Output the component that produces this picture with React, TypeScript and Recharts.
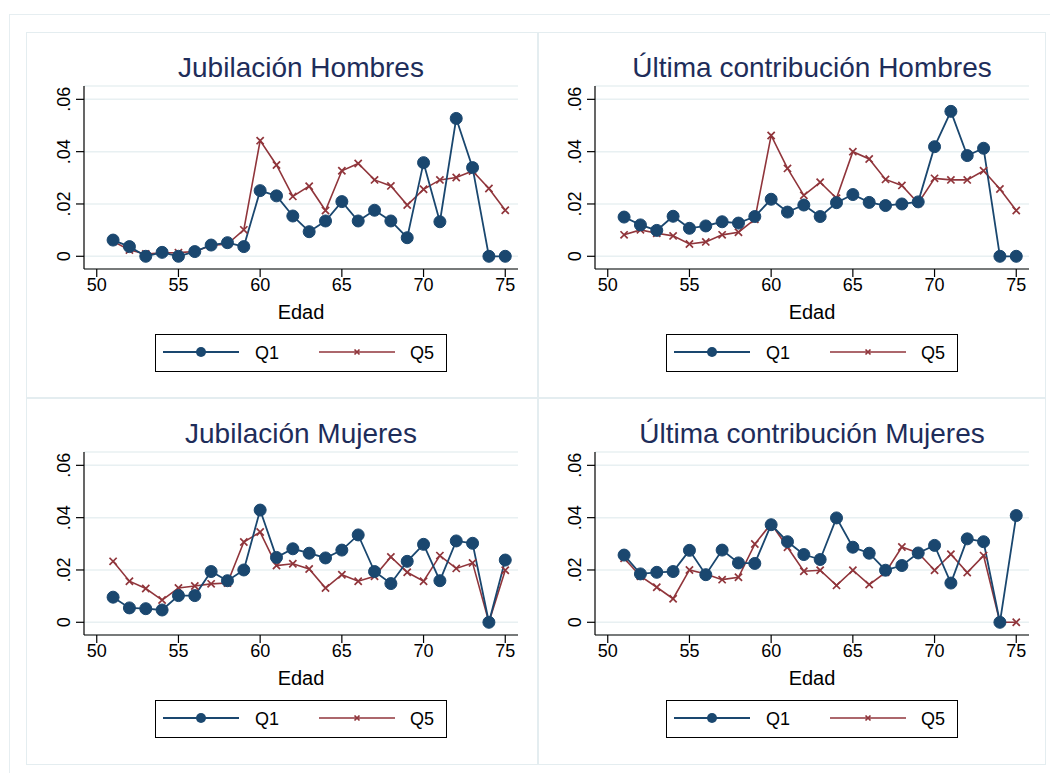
import React from 'react';
import { LineChart, Line, XAxis, YAxis, CartesianGrid } from 'recharts';

const ages = [51, 52, 53, 54, 55, 56, 57, 58, 59, 60, 61, 62, 63, 64, 65, 66, 67, 68, 69, 70, 71, 72, 73, 74, 75];
const xTicks = [50, 55, 60, 65, 70, 75];
const yTicks = [0, 0.02, 0.04, 0.06];
const seriesNames = ['Q1', 'Q5'];

const jubHombresQ1 = [0.0062, 0.0037, 0, 0.0015, 0, 0.0018, 0.0043, 0.0052, 0.0037, 0.0251, 0.0231, 0.0154, 0.0094, 0.0135, 0.0209, 0.0135, 0.0176, 0.0135, 0.0071, 0.0358, 0.0132, 0.0527, 0.0339, 0, 0];
const jubHombresQ5 = [0.0057, 0.0024, 0.0009, 0.0013, 0.0014, 0.0018, 0.0041, 0.0047, 0.0101, 0.0442, 0.0349, 0.0229, 0.0268, 0.0175, 0.0327, 0.0355, 0.0292, 0.0269, 0.0196, 0.0256, 0.0292, 0.0301, 0.0326, 0.0259, 0.0176];
const ultHombresQ1 = [0.015, 0.012, 0.0099, 0.0153, 0.0107, 0.0116, 0.0132, 0.0127, 0.0152, 0.0218, 0.0169, 0.0196, 0.0152, 0.0205, 0.0236, 0.0206, 0.0194, 0.02, 0.0208, 0.0419, 0.0554, 0.0385, 0.0413, 0, 0];
const ultHombresQ5 = [0.0082, 0.0101, 0.0088, 0.0078, 0.0047, 0.0055, 0.0082, 0.0092, 0.0141, 0.0462, 0.0336, 0.0233, 0.0283, 0.0222, 0.04, 0.0372, 0.0294, 0.0271, 0.0203, 0.0298, 0.0292, 0.0292, 0.0327, 0.0257, 0.0175];
const jubMujeresQ1 = [0.0096, 0.0055, 0.0052, 0.0047, 0.0102, 0.0102, 0.0194, 0.0159, 0.02, 0.0429, 0.0248, 0.0281, 0.0264, 0.0246, 0.0276, 0.0334, 0.0194, 0.0148, 0.0233, 0.0298, 0.0159, 0.0311, 0.0302, 0, 0.0238];
const jubMujeresQ5 = [0.0233, 0.0157, 0.0129, 0.0085, 0.0131, 0.0139, 0.0147, 0.015, 0.0307, 0.0345, 0.0217, 0.0224, 0.0204, 0.0131, 0.0182, 0.0157, 0.0176, 0.025, 0.0191, 0.0157, 0.0255, 0.0206, 0.0227, 0, 0.0199];
const ultMujeresQ1 = [0.0257, 0.0185, 0.0191, 0.0194, 0.0275, 0.0182, 0.0276, 0.0227, 0.0225, 0.0373, 0.0308, 0.0259, 0.024, 0.0399, 0.0287, 0.0264, 0.0199, 0.0217, 0.0265, 0.0294, 0.015, 0.0319, 0.0308, 0, 0.0408];
const ultMujeresQ5 = [0.0245, 0.0176, 0.0134, 0.009, 0.02, 0.0185, 0.0163, 0.0172, 0.0299, 0.0377, 0.0287, 0.0195, 0.0199, 0.0141, 0.0199, 0.0144, 0.0191, 0.0288, 0.0265, 0.0199, 0.026, 0.019, 0.0255, 0, 0];

const NAVY = '#1a476f';
const MAROON = '#90353b';
const FONT = '"Liberation Sans", Arial, sans-serif';
const PW = 511;
const PH = 366;

const fmtY = (v: number) => (v === 0 ? '0' : String(v).replace(/^0/, ''));

const YTick = (props: any) => {
  const { x, y, payload } = props;
  const bx = x - 4;
  return (
    <text x={bx} y={y} transform={`rotate(-90 ${bx} ${y})`} textAnchor="middle" fontSize={18} fontFamily={FONT} fill="#000">
      {fmtY(payload.value)}
    </text>
  );
};

const Dot = (props: any) => {
  const { cx, cy, index } = props;
  if (cx == null || cy == null) return <g key={`d${index}`} />;
  return <circle key={`d${index}`} cx={cx} cy={cy} r={6} fill={NAVY} stroke={NAVY} />;
};

const Cross = (props: any) => {
  const { cx, cy, index } = props;
  if (cx == null || cy == null) return <g key={`c${index}`} />;
  const s = 3.6;
  return (
    <path key={`c${index}`} d={`M${cx - s},${cy - s}L${cx + s},${cy + s}M${cx - s},${cy + s}L${cx + s},${cy - s}`} stroke={MAROON} strokeWidth={1.7} fill="none" />
  );
};

function Panel({ title, q1, q5, left, top }: { title: string; q1: number[]; q5: number[]; left: number; top: number }) {
  const data = ages.map((a, i) => ({ age: a, q1: q1[i], q5: q5[i] }));
  const cx = 275;
  return (
    <div style={{ position: 'absolute', left, top, width: PW, height: PH }}>
      <LineChart width={PW} height={PH} data={data} margin={{ top: 54, right: 19, bottom: 89, left: 18 }}>
        <CartesianGrid horizontal={true} vertical={false} stroke="#e8f0f2" strokeWidth={1.5} />
        <XAxis
          type="number"
          dataKey="age"
          domain={[49.22, 75.78]}
          ticks={xTicks}
          allowDataOverflow
          height={40}
          tickSize={8}
          tickMargin={1}
          axisLine={{ stroke: '#000', strokeWidth: 1.2 }}
          tickLine={{ stroke: '#000', strokeWidth: 1.2 }}
          tick={{ fill: '#000', fontSize: 18, fontFamily: FONT }}
        />
        <YAxis
          type="number"
          domain={[-0.00486, 0.0651]}
          ticks={yTicks}
          allowDataOverflow
          width={40}
          tickSize={8}
          axisLine={{ stroke: '#000', strokeWidth: 1.2 }}
          tickLine={{ stroke: '#000', strokeWidth: 1.2 }}
          tick={<YTick />}
        />
        <Line type="linear" dataKey="q5" name={seriesNames[1]} stroke={MAROON} strokeWidth={1.6} dot={Cross} activeDot={false} isAnimationActive={false} />
        <Line type="linear" dataKey="q1" name={seriesNames[0]} stroke={NAVY} strokeWidth={1.8} dot={Dot} activeDot={false} isAnimationActive={false} />
      </LineChart>
      <svg width={PW} height={PH} style={{ position: 'absolute', left: 0, top: 0, pointerEvents: 'none' }}>
        <text x={cx} y={45} textAnchor="middle" fontSize={28} fontFamily={FONT} fill="#1e2d5a">{title}</text>
        <text x={cx} y={287} textAnchor="middle" fontSize={20} fontFamily={FONT} fill="#000">Edad</text>
        <rect x={129.5} y={302.5} width={291} height={37} fill="none" stroke="#000" strokeWidth={1} />
        <line x1={137} y1={320} x2={213} y2={320} stroke={NAVY} strokeWidth={1.8} />
        <circle cx={175} cy={320} r={5} fill={NAVY} />
        <text x={229} y={327} fontSize={18} fontFamily={FONT} fill="#000">{seriesNames[0]}</text>
        <line x1={293} y1={320} x2={369} y2={320} stroke={MAROON} strokeWidth={1.6} />
        <path d="M328.5,317.5L333.5,322.5M328.5,322.5L333.5,317.5" stroke={MAROON} strokeWidth={1.7} />
        <text x={384} y={327} fontSize={18} fontFamily={FONT} fill="#000">{seriesNames[1]}</text>
      </svg>
    </div>
  );
}

export default function App() {
  return (
    <div style={{ position: 'absolute', left: 0, top: 0, width: 1050, height: 773, background: '#fff', overflow: 'hidden' }}>
      <div style={{ position: 'absolute', left: 9, top: 14, width: 1060, height: 780, borderLeft: '1.5px solid #e6eef1', borderTop: '1.5px solid #e6eef1' }} />
      <div style={{ position: 'absolute', left: 26, top: 32, width: 1020, height: 733, border: '1.5px solid #e4edf0', boxSizing: 'border-box' }} />
      <div style={{ position: 'absolute', left: 537, top: 32, width: 1.5, height: 733, background: '#e4edf0' }} />
      <div style={{ position: 'absolute', left: 26, top: 397, width: 1020, height: 1.5, background: '#e4edf0' }} />
      <Panel title="Jubilación Hombres" q1={jubHombresQ1} q5={jubHombresQ5} left={26} top={32} />
      <Panel title="Última contribución Hombres" q1={ultHombresQ1} q5={ultHombresQ5} left={537} top={32} />
      <Panel title="Jubilación Mujeres" q1={jubMujeresQ1} q5={jubMujeresQ5} left={26} top={398} />
      <Panel title="Última contribución Mujeres" q1={ultMujeresQ1} q5={ultMujeresQ5} left={537} top={398} />
    </div>
  );
}
